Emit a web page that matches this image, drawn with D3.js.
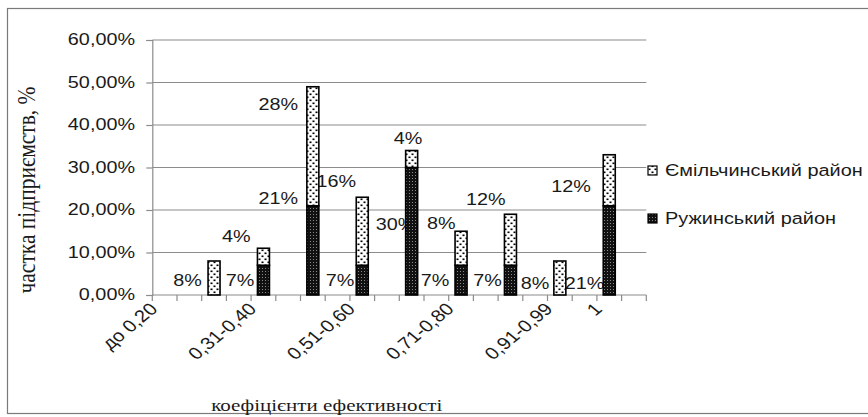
<!DOCTYPE html>
<html>
<head>
<meta charset="utf-8">
<script src="https://cdn.jsdelivr.net/npm/d3@7"></script>
<style>
  html, body { margin: 0; padding: 0; background: #fff; }
  svg { display: block; }
</style>
</head>
<body>
<svg id="chart" width="868" height="417"></svg>
<script>
// ---- data ----
const ranges = ["до 0,20","0,21-0,30","0,31-0,40","0,41-0,50","0,51-0,60","0,61-0,70","0,71-0,80","0,81-0,90","0,91-0,99","1"];
const emilchynskyi = [0, 8, 4, 28, 16, 4, 8, 12, 8, 12];   // Ємільчинський район, %
const ruzhynskyi   = [0, 0, 7, 21, 7, 30, 7, 7, 0, 21];    // Ружинський район, %
const shownRangeLabels = ["до 0,20","0,31-0,40","0,51-0,60","0,71-0,80","0,91-0,99","1"];
const yTicks = [0, 10, 20, 30, 40, 50, 60];
const seriesNames = ["Ємільчинський район", "Ружинський район"];
// data-label anchors (slot index on the category axis, level in %), as placed in the source
const emLabelAnchor = [null, [0.93, 3.3], [2.9, 13.7], [4.6, 44.9], [6.95, 26.8], [9.85, 36.9], [11.2, 16.9], [13.0, 22.4], [15.0, 2.8], [16.45, 25.5]];
const ruLabelAnchor = [null, null, [3.05, 3.3], [4.6, 22.7], [7.1, 3.4], [9.35, 16.5], [10.95, 3.3], [13.07, 3.3], null, [17.0, 2.6]];

// ---- layout ----
const SX = 1.2;             // horizontal stretch of the source picture
const svg = d3.select("#chart");
const slots = d3.range(ranges.length * 2);
const x = d3.scaleBand().domain(slots).range([152.3, 646.3]).paddingInner(0).paddingOuter(0);
const y = d3.scaleLinear().domain([0, 60]).range([295, 40]);
const slotOf = i => i * 2;
const cx = s => x.range()[0] + (s + 0.5) * x.step();
const barW = 12;
const sans = "'Liberation Sans', Arial, sans-serif";
const serif = "'Liberation Serif', 'Times New Roman', serif";
const txtCol = "#1a1a1a";

function stext(parent, px, py, str, o = {}) {
  return parent.append("text")
    .attr("transform", `translate(${px},${py}) scale(${SX},1)` + (o.rot ? ` rotate(${o.rot})` : ""))
    .attr("text-anchor", o.anchor || "start")
    .attr("dominant-baseline", o.baseline || "auto")
    .attr("font-family", o.font || sans)
    .attr("font-size", o.size || 16.5)
    .attr("fill", txtCol)
    .text(str);
}

svg.append("rect").attr("width", 868).attr("height", 417).attr("fill", "#fff");
svg.append("rect").attr("x", 7.5).attr("y", 8.5).attr("width", 880).attr("height", 405)
  .attr("fill", "none").attr("stroke", "#7a7a7a").attr("stroke-width", 1.2);

// patterns
const defs = svg.append("defs");
const pEm = defs.append("pattern").attr("id", "pEm").attr("patternUnits", "userSpaceOnUse")
  .attr("width", 6).attr("height", 6);
pEm.append("rect").attr("width", 6).attr("height", 6).attr("fill", "#fff");
pEm.append("rect").attr("x", 0.5).attr("y", 0.5).attr("width", 2).attr("height", 1.6).attr("fill", "#000");
pEm.append("rect").attr("x", 3.5).attr("y", 3.5).attr("width", 2).attr("height", 1.6).attr("fill", "#000");
const pRu = defs.append("pattern").attr("id", "pRu").attr("patternUnits", "userSpaceOnUse")
  .attr("width", 3).attr("height", 3);
pRu.append("rect").attr("width", 3).attr("height", 3).attr("fill", "#111");
pRu.append("rect").attr("x", 1).attr("y", 1).attr("width", 1).attr("height", 1).attr("fill", "#8a8a8a");

// gridlines
svg.append("g").selectAll("line").data(yTicks.filter(v => v > 0)).join("line")
  .attr("x1", x.range()[0]).attr("x2", x.range()[1])
  .attr("y1", d => y(d)).attr("y2", d => y(d))
  .attr("stroke", "#8c8c8c").attr("stroke-width", 1.2);

// y axis
const yAxis = svg.append("g").attr("transform", `translate(${x.range()[0]},0)`)
  .call(d3.axisLeft(y).tickValues(yTicks).tickSize(6).tickFormat(() => ""));
yAxis.select(".domain").attr("stroke", "#8c8c8c").attr("stroke-width", 1.2);
yAxis.selectAll(".tick line").attr("stroke", "#8c8c8c").attr("stroke-width", 1.2);
yTicks.forEach(v => {
  stext(svg, 135, y(v), d3.format(".2f")(v).replace(".", ",") + "%", { anchor: "end", baseline: "central" });
});

// x axis
svg.append("line").attr("x1", x.range()[0]).attr("x2", x.range()[1]).attr("y1", y(0)).attr("y2", y(0))
  .attr("stroke", "#8c8c8c").attr("stroke-width", 1.2);
svg.append("g").selectAll("line").data(slots.concat([slots.length])).join("line")
  .attr("x1", s => x.range()[0] + s * x.step()).attr("x2", s => x.range()[0] + s * x.step())
  .attr("y1", y(0)).attr("y2", y(0) + 6)
  .attr("stroke", "#8c8c8c").attr("stroke-width", 1.2);
shownRangeLabels.forEach(lbl => {
  const s = slotOf(ranges.indexOf(lbl));
  stext(svg, cx(s) - 6, y(0) + 15, lbl, { anchor: "end", rot: -45, size: 17 });
});

// data labels (drawn under the bars, as in the source)
const lblG = svg.append("g");
emLabelAnchor.forEach((a, i) => {
  if (!a || !emilchynskyi[i]) return;
  stext(lblG, cx(a[0]), y(a[1]), emilchynskyi[i] + "%", { anchor: "middle", baseline: "central" });
});
ruLabelAnchor.forEach((a, i) => {
  if (!a || !ruzhynskyi[i]) return;
  stext(lblG, cx(a[0]), y(a[1]), ruzhynskyi[i] + "%", { anchor: "middle", baseline: "central" });
});

// stacked bars
const stackData = ranges.map((r, i) => ({ r, ru: ruzhynskyi[i], em: emilchynskyi[i] }));
const stacked = d3.stack().keys(["ru", "em"])(stackData);
const fills = { ru: "url(#pRu)", em: "url(#pEm)" };
svg.append("g").selectAll("g").data(stacked).join("g")
  .attr("fill", d => fills[d.key])
  .selectAll("rect").data(d => d.filter(p => p[1] - p[0] > 0)).join("rect")
  .attr("x", d => cx(slotOf(ranges.indexOf(d.data.r))) - barW / 2)
  .attr("width", barW)
  .attr("y", d => y(d[1]))
  .attr("height", d => y(d[0]) - y(d[1]))
  .attr("stroke", "#000").attr("stroke-width", 1.6);

// legend
const legY = [170.5, 218.5];
seriesNames.forEach((n, i) => {
  svg.append("rect").attr("x", 648).attr("y", legY[i] - 4.5).attr("width", 9).attr("height", 9)
    .attr("fill", i === 0 ? "url(#pEm)" : "url(#pRu)").attr("stroke", "#000").attr("stroke-width", 1.2);
  stext(svg, 665, legY[i], n, { baseline: "central", size: 16.6 });
});

// axis titles
stext(svg, 326.7, 405, "коефіцієнти ефективності", { anchor: "middle", baseline: "central", font: serif, size: 17.5 });
stext(svg, 26, 190, "частка підприємств, %", { anchor: "middle", baseline: "central", font: serif, size: 21.5, rot: -90 });
</script>
</body>
</html>
